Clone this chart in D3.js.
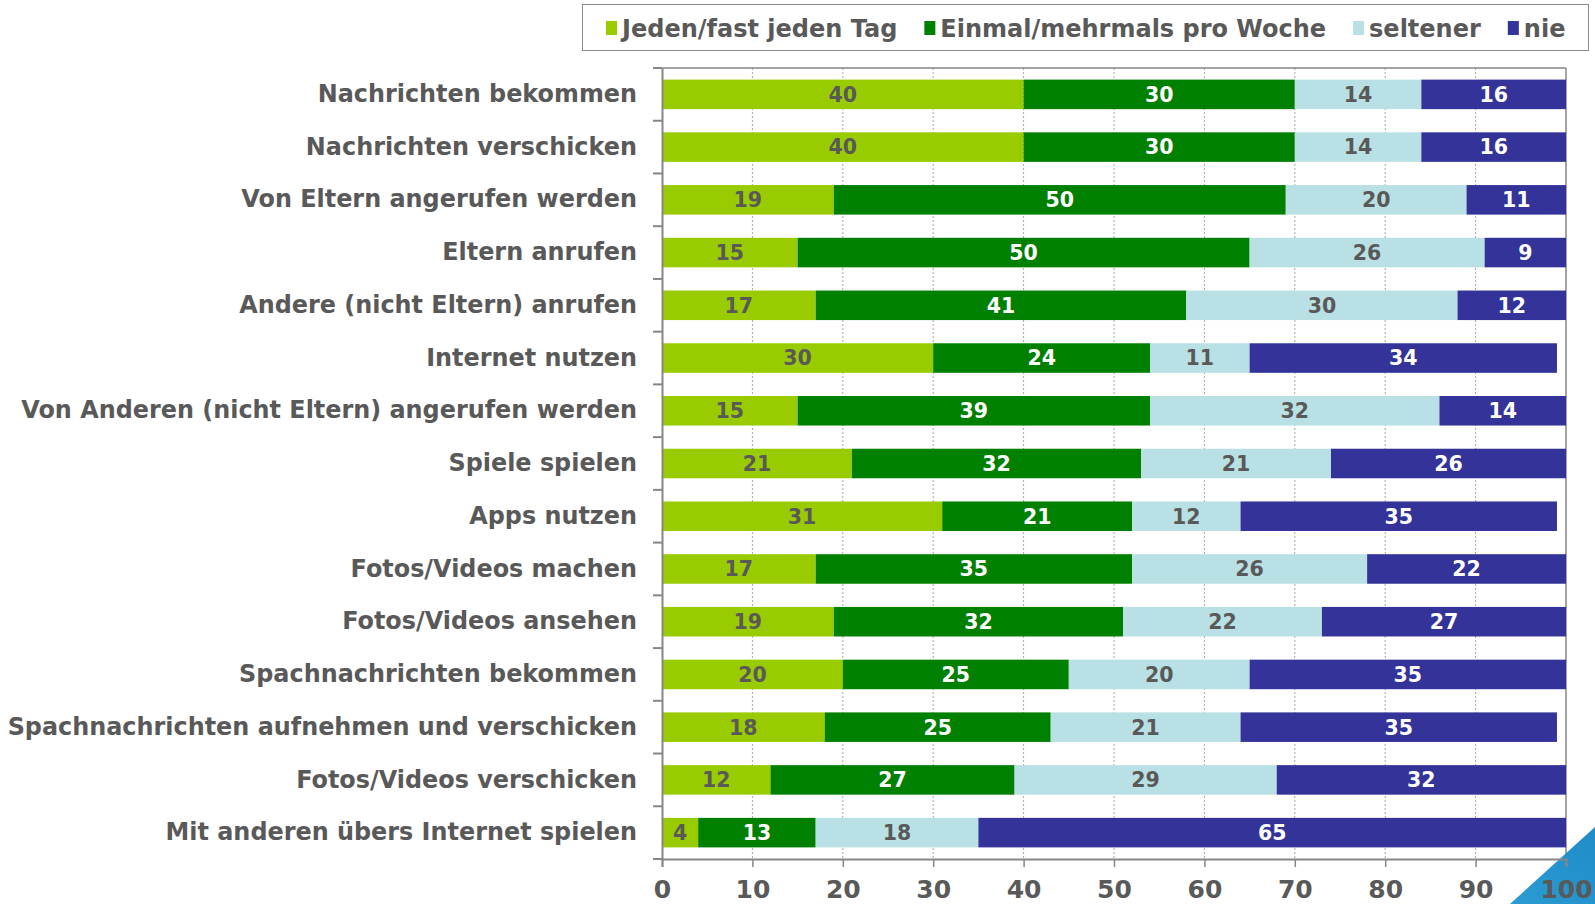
<!DOCTYPE html>
<html>
<head>
<meta charset="utf-8">
<script src="https://cdn.jsdelivr.net/npm/d3@7"></script>
<style>
  html, body { margin: 0; padding: 0; background: #fff; }
  svg { display: block; }
  text { font-family: "DejaVu Sans", Verdana, sans-serif; font-weight: bold; }
</style>
</head>
<body>
<svg id="chart" width="1595" height="904"></svg>
<script>
// Smartphone activities: how often children do each one (percent)
const categories = [
  "Nachrichten bekommen",
  "Nachrichten verschicken",
  "Von Eltern angerufen werden",
  "Eltern anrufen",
  "Andere (nicht Eltern) anrufen",
  "Internet nutzen",
  "Von Anderen (nicht Eltern) angerufen werden",
  "Spiele spielen",
  "Apps nutzen",
  "Fotos/Videos machen",
  "Fotos/Videos ansehen",
  "Spachnachrichten bekommen",
  "Spachnachrichten aufnehmen und verschicken",
  "Fotos/Videos verschicken",
  "Mit anderen übers Internet spielen"
];
const seriesNames = ["Jeden/fast jeden Tag", "Einmal/mehrmals pro Woche", "seltener", "nie"];
const daily   = [40, 40, 19, 15, 17, 30, 15, 21, 31, 17, 19, 20, 18, 12, 4];
const weekly  = [30, 30, 50, 50, 41, 24, 39, 32, 21, 35, 32, 25, 25, 27, 13];
const rarely  = [14, 14, 20, 26, 30, 11, 32, 21, 12, 26, 22, 20, 21, 29, 18];
const never   = [16, 16, 11,  9, 12, 34, 14, 26, 35, 22, 27, 35, 35, 32, 65];
const xTicks  = [0, 10, 20, 30, 40, 50, 60, 70, 80, 90, 100];

const colors = ["#99CC00", "#008000", "#B9E0E4", "#333399"];
const labelColors = ["#595959", "#ffffff", "#595959", "#ffffff"];
const textGray = "#595959";
const axisGray = "#868686";

const rows = categories.map((c, i) => ({
  cat: c,
  [seriesNames[0]]: daily[i],
  [seriesNames[1]]: weekly[i],
  [seriesNames[2]]: rarely[i],
  [seriesNames[3]]: never[i]
}));
const stacked = d3.stack().keys(seriesNames)(rows);

const svg = d3.select("#chart");
const plot = { left: 662, right: 1566, top: 68, bottom: 859 };

const x = d3.scaleLinear().domain([0, 100]).range([plot.left, plot.right]);
const y = d3.scaleBand().domain(categories).range([plot.top, plot.bottom])
  .paddingInner(0.44).paddingOuter(0.22);

// dashed vertical gridlines
svg.append("g").selectAll("line").data(xTicks.slice(1, -1)).join("line")
  .attr("x1", d => x(d)).attr("x2", d => x(d))
  .attr("y1", plot.top).attr("y2", plot.bottom)
  .attr("stroke", "#a6a6a6").attr("stroke-width", 1).attr("stroke-dasharray", "2,2");

// top and right frame
svg.append("line").attr("x1", plot.left).attr("x2", plot.right)
  .attr("y1", plot.top).attr("y2", plot.top)
  .attr("stroke", axisGray).attr("stroke-width", 1.5);
svg.append("line").attr("x1", plot.right).attr("x2", plot.right)
  .attr("y1", plot.top).attr("y2", plot.bottom)
  .attr("stroke", axisGray).attr("stroke-width", 1.5);

// stacked bars
const layers = svg.append("g").selectAll("g").data(stacked).join("g")
  .attr("fill", (d, i) => colors[i]);
layers.selectAll("rect").data(d => d.map(s => ({ s, cat: s.data.cat }))).join("rect")
  .attr("x", d => x(d.s[0]))
  .attr("width", d => x(d.s[1]) - x(d.s[0]))
  .attr("y", d => y(d.cat))
  .attr("height", y.bandwidth());

// value labels
stacked.forEach((layer, i) => {
  svg.append("g").selectAll("text").data(layer).join("text")
    .attr("x", d => (x(d[0]) + x(d[1])) / 2)
    .attr("y", d => y(d.data.cat) + y.bandwidth() / 2)
    .attr("dy", "0.36em")
    .attr("text-anchor", "middle")
    .attr("font-size", 20.5)
    .attr("fill", labelColors[i])
    .text(d => d[1] - d[0]);
});

// background triangle in the lower right corner
const defs = svg.append("defs");
const grad = defs.append("linearGradient").attr("id", "cornerGrad")
  .attr("x1", "0").attr("y1", "1").attr("x2", "1").attr("y2", "0");
grad.append("stop").attr("offset", "0").attr("stop-color", "#2b9bd3");
grad.append("stop").attr("offset", "1").attr("stop-color", "#1f8cc8");
svg.append("path")
  .attr("d", "M1510,904 L1595,827 L1595,904 Z")
  .attr("fill", "url(#cornerGrad)");

// x axis
const xAxis = svg.append("g").attr("transform", `translate(0,${plot.bottom})`)
  .call(d3.axisBottom(x).tickValues(xTicks).tickSizeOuter(0).tickSize(8).tickPadding(20));
xAxis.select(".domain").attr("stroke", axisGray).attr("stroke-width", 2);
xAxis.selectAll(".tick line").attr("stroke", axisGray).attr("stroke-width", 1.5);
xAxis.selectAll(".tick text")
  .attr("font-family", "DejaVu Sans, sans-serif").attr("font-weight", "bold")
  .attr("font-size", 25).attr("fill", textGray).attr("dy", "0.45em");

// y axis with ticks between categories
const yAxis = svg.append("g").attr("transform", `translate(${plot.left},0)`)
  .call(d3.axisLeft(y).tickSize(0).tickPadding(25));
yAxis.select(".domain").attr("stroke", axisGray).attr("stroke-width", 2);
yAxis.selectAll(".tick text")
  .attr("font-family", "DejaVu Sans, sans-serif").attr("font-weight", "bold")
  .attr("font-size", 23.9).attr("fill", textGray);
const boundaries = d3.range(categories.length + 1).map(i => plot.top + i * y.step());
svg.append("g").selectAll("line").data(boundaries).join("line")
  .attr("x1", plot.left - 9).attr("x2", plot.left)
  .attr("y1", d => d).attr("y2", d => d)
  .attr("stroke", axisGray).attr("stroke-width", 2);

// legend
const legend = svg.append("g");
legend.append("rect")
  .attr("x", 582.5).attr("y", 4.5).attr("width", 1006).attr("height", 46)
  .attr("fill", "#fff").attr("stroke", "#8c8c8c").attr("stroke-width", 1);
let lx = 606;
seriesNames.forEach((name, i) => {
  const g = legend.append("g");
  g.append("rect").attr("x", lx).attr("y", 21).attr("width", 11).attr("height", 14)
    .attr("fill", colors[i]);
  const t = g.append("text").attr("x", lx + 16).attr("y", 28).attr("dy", "0.36em")
    .attr("font-size", 24).attr("fill", textGray).text(name);
  lx += 16 + t.node().getComputedTextLength() + 27;
});
</script>
</body>
</html>
